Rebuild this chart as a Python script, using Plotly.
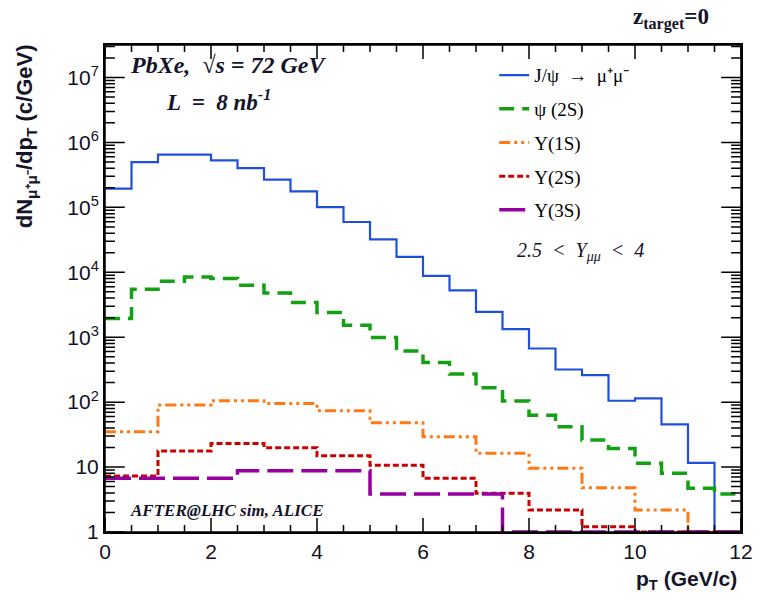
import numpy as np
import plotly.graph_objects as go

# pT bin edges (GeV/c) for each histogram
edges_fine = [i * 0.5 for i in range(25)]          # 0.5 GeV/c bins, 0..12
edges_unit = list(range(13))                      # 1 GeV/c bins, 0..12
edges_wide = [0, 2.5, 5.0, 7.5, 10.0, 12.0]       # 2.5 GeV/c bins

# dN/dpT yields per bin (c/GeV)
jpsi = [1.94e5, 4.98e5, 6.5e5, 6.5e5, 5.28e5, 4.03e5, 2.67e5, 1.76e5,
        1.01e5, 5.94e4, 3.22e4, 1.72e4, 8.77e3, 5.28e3, 2.45e3, 1.33e3,
        670, 318, 260, 105, 114, 45.4, 11.6, 0]
psi2s = [1.94e3, 5.47e3, 7.27e3, 8.47e3, 8.0e3, 6.3e3, 4.8e3, 3.42e3,
         2.4e3, 1.53e3, 990, 615, 408, 270, 166, 104,
         63, 41.7, 26, 19.4, 11.4, 8.0, 4.7, 3.85]
ups1s = [34.9, 90, 105, 95.6, 73.5, 48, 29.2, 16.3, 9.55, 4.8, 2.18, 0]
ups2s = [7.3, 17.6, 23.1, 19.8, 14.9, 10.7, 6.7, 3.94, 2.18, 1.2, 0, 0]
ups3s = [6.7, 8.8, 3.85, 0, 0]

names = ["J/ψ  →  μ⁺μ⁻", "ψ (2S)", "Υ(1S)", "Υ(2S)", "Υ(3S)"]

X_RANGE = [0, 12]
Y_MIN, Y_MAX = 1.0, 10 ** 7.5
Y_LOG_RANGE = [0, 7.5]

# plot-area size in pixels (figure size minus margins)
W, H = 765, 604
M = dict(l=105, r=17, t=45, b=72)
AREA_W = W - M["l"] - M["r"]
AREA_H = H - M["t"] - M["b"]


def step_xy(edges, vals):
    """Histogram outline: value held over each bin; empty bins sit on the floor."""
    v = [x if x > 0 else Y_MIN for x in vals]
    return list(edges), v + [v[-1]]


series = [
    (names[0], edges_fine, jpsi, "#1e50dc", 2.2, "solid"),
    (names[1], edges_fine, psi2s, "#14a014", 3.5, "15px,8px"),
    (names[2], edges_unit, ups1s, "#ff7814", 3.0, "11px,4px,3px,4px,3px,4px"),
    (names[3], edges_unit, ups2s, "#c80000", 3.0, "6px,3px"),
    (names[4], edges_wide, ups3s, "#9600a0", 3.5, "26px,8px"),
]

fig = go.Figure()
for i, (name, edges, vals, color, width, dash) in enumerate(series):
    x, y = step_xy(edges, vals)
    fig.add_trace(go.Scatter(
        x=x, y=y, mode="lines", name=name, legendgroup=f"g{i}",
        line=dict(color=color, width=width, dash=dash, shape="hv"),
    ))

# tick positions
major_x = [0, 2, 4, 6, 8, 10, 12]
minor_x = [i * 0.5 for i in range(25)]
major_y = [10 ** d for d in range(0, 8)]
major_y_text = ["1", "10"] + [f"10<sup>{d}</sup>" for d in range(2, 8)]
minor_y = [k * 10 ** d for d in range(0, 8) for k in range(1, 10) if k * 10 ** d <= Y_MAX]

# Inward tick marks on the four sides of the frame (lengths in pixels).
# Each side is one continuous comb: it runs along the frame edge and
# juts inward at every tick position.
x_per_px = (X_RANGE[1] - X_RANGE[0]) / AREA_W
logy_per_px = (Y_LOG_RANGE[1] - Y_LOG_RANGE[0]) / AREA_H


def x_len(v):
    return 14 if v in major_x else 7


def y_len(v):
    return 20 if v in major_y else 10


tx, ty = [], []
for edge_log, sign in ((Y_LOG_RANGE[0], 1), (Y_LOG_RANGE[1], -1)):
    base = 10 ** edge_log
    for v in minor_x:
        tip = 10 ** (edge_log + sign * x_len(v) * logy_per_px)
        tx += [v, v, v]
        ty += [base, tip, base]
    tx.append(None)
    ty.append(None)
for edge, sign in ((X_RANGE[0], 1), (X_RANGE[1], -1)):
    for v in minor_y:
        tip = edge + sign * y_len(v) * x_per_px
        tx += [edge, tip, edge]
        ty += [v, v, v]
    tx.append(None)
    ty.append(None)

fig.add_trace(go.Scatter(x=tx, y=ty, mode="lines", showlegend=False, hoverinfo="skip",
                         line=dict(color="black", width=1.5, simplify=False),
                         connectgaps=False))

tick_font = dict(family="Liberation Sans, Arial, sans-serif", size=21, color="#111122")
frame = dict(showline=True, linewidth=2, linecolor="black", mirror=True,
             ticks="", showgrid=False, zeroline=False)

fig.update_layout(
    xaxis=dict(range=X_RANGE, tickmode="array", tickvals=major_x,
               ticktext=[str(v) for v in major_x], tickfont=tick_font, **frame),
    yaxis=dict(type="log", range=Y_LOG_RANGE, tickmode="array",
               tickvals=major_y, ticktext=major_y_text, tickfont=tick_font, **frame),
)

serif = "Liberation Serif, Times New Roman, serif"
sans = "Liberation Sans, Arial, sans-serif"
ink = "#14142a"

annotations = [
    dict(text="<b>z<sub>target</sub>=0</b>", x=0.89, y=1.055, xanchor="center", yanchor="middle",
         font=dict(family=serif, size=23, color=ink)),
    dict(text="<b><i>PbXe,  √s = 72 GeV</i></b>", x=0.036, y=0.959, xanchor="left", yanchor="middle",
         font=dict(family=serif, size=24, color=ink)),
    dict(text="<b><i>L  =  8 nb<sup>-1</sup></i></b>", x=0.093, y=0.887, xanchor="left", yanchor="middle",
         font=dict(family=serif, size=23, color=ink)),
    dict(text="<i>2.5  &lt;  Y<sub>μμ</sub>  &lt;  4</i>", x=0.645, y=0.575, xanchor="left", yanchor="middle",
         font=dict(family=serif, size=20, color=ink)),
    dict(text="<b><i>AFTER@LHC sim, ALICE</i></b>", x=0.036, y=0.045, xanchor="left", yanchor="middle",
         font=dict(family=serif, size=17, color=ink)),
    dict(text="<b>dN<sub>μ⁺μ⁻</sub>/dp<sub>T</sub> (c/GeV)</b>", textangle=-90,
         x=-0.124, y=1.006, xanchor="center", yanchor="top",
         font=dict(family=sans, size=22, color=ink)),
    dict(text="<b>p<sub>T</sub> (GeV/c)</b>", x=0.997, y=-0.099, xanchor="right", yanchor="middle",
         font=dict(family=sans, size=21, color=ink)),
]
for a in annotations:
    a.update(xref="paper", yref="paper", showarrow=False)

fig.update_layout(
    width=W, height=H,
    margin=M,
    paper_bgcolor="white", plot_bgcolor="white",
    annotations=annotations,
    showlegend=True,
    legend=dict(x=0.612, y=0.977, xanchor="left", yanchor="top",
                bgcolor="rgba(0,0,0,0)", borderwidth=0, tracegroupgap=6,
                font=dict(family=serif, size=19, color="black")),
)

fig.write_html("out.html")
